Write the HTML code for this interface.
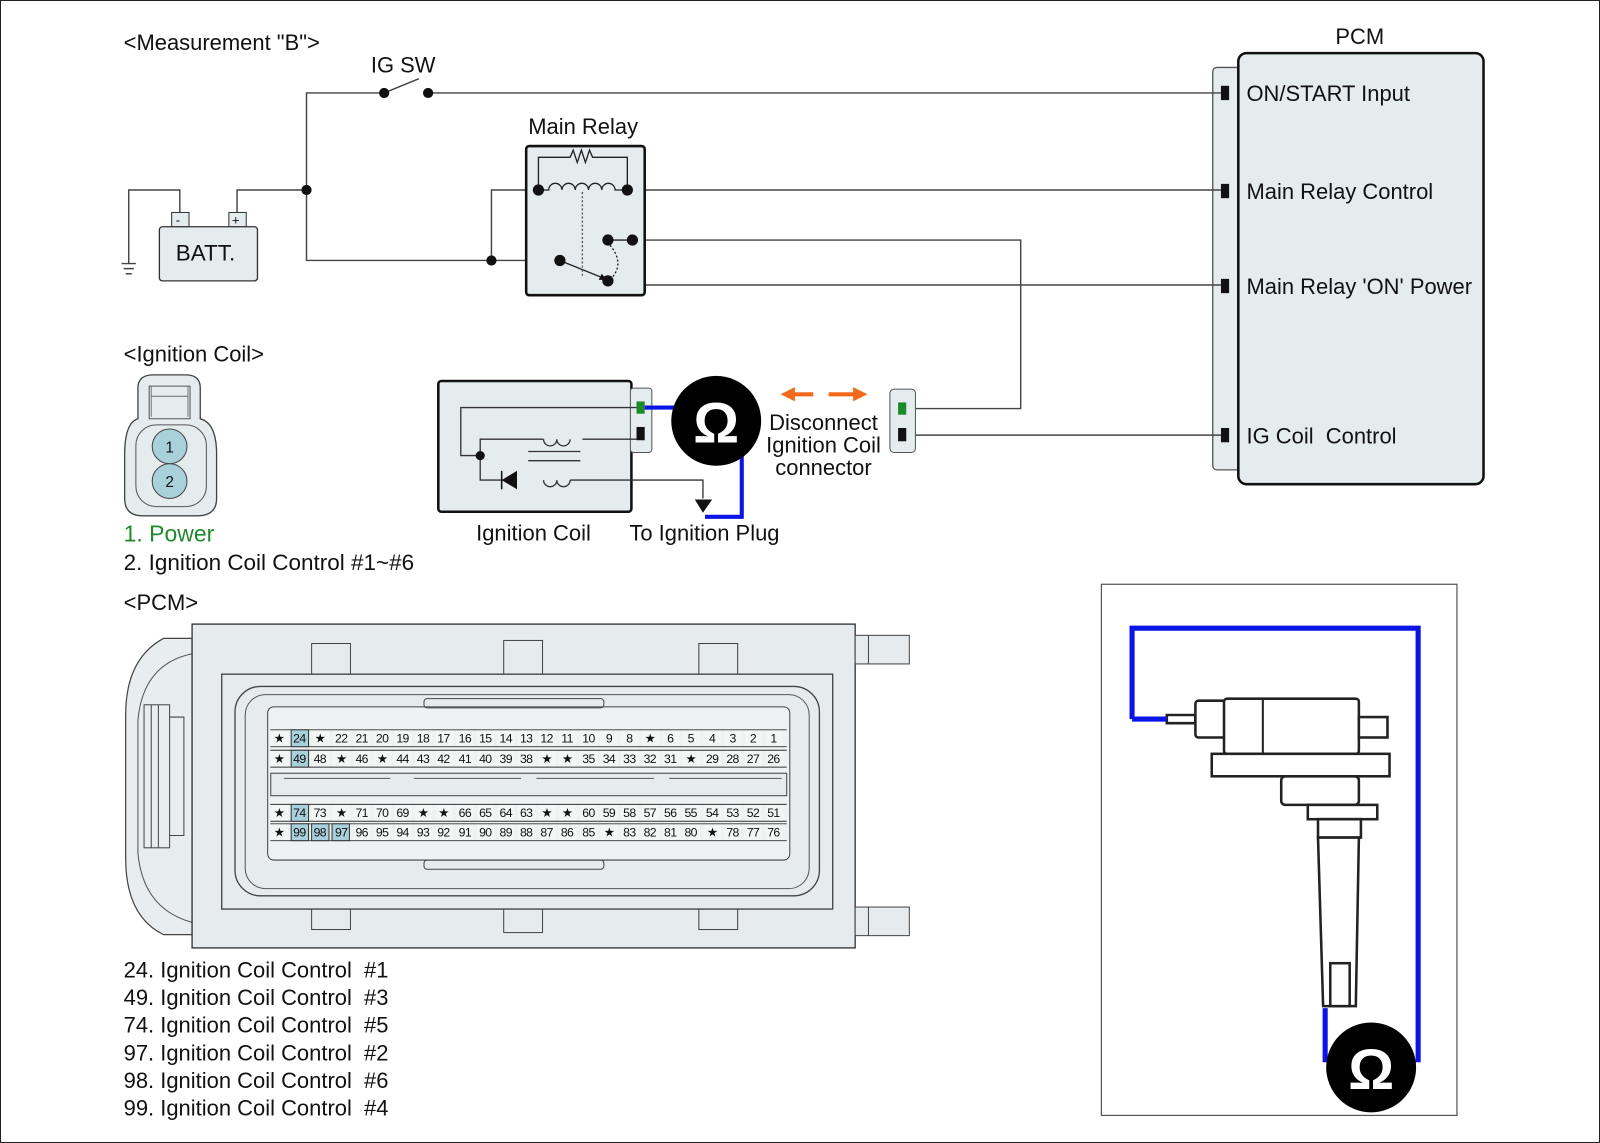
<!DOCTYPE html>
<html><head><meta charset="utf-8"><style>
html,body{margin:0;padding:0;background:#fff}
svg{display:block}
text{font-family:"Liberation Sans",Arial,sans-serif;fill:#111;white-space:pre}
.p{font-size:12px;text-anchor:middle;letter-spacing:-0.6px}
</style></head><body>
<svg width="1600" height="1143" viewBox="0 0 1566 1119" preserveAspectRatio="none" xmlns="http://www.w3.org/2000/svg" xml:space="preserve">
<defs>
<pattern id="pp" x="264.5" y="0" width="20.17" height="1119" patternUnits="userSpaceOnUse">
<rect x="0.5" y="0" width="17" height="1119" fill="#f4f6f6" stroke="none"/>
</pattern>
</defs>
<rect x="0.5" y="0.5" width="1565" height="1118" fill="#fff" stroke="#222" stroke-width="1"/>

<text x="121" y="49" font-size="21.5">&lt;Measurement "B"&gt;</text>
<text x="363" y="71" font-size="21.5">IG SW</text>
<text x="517" y="131" font-size="21.5">Main Relay</text>
<text x="1307" y="43" font-size="21.5">PCM</text>

<rect x="1187" y="66" width="30" height="394" rx="4" fill="#e4ecee" stroke="#555" stroke-width="1.3"/>
<rect x="1212" y="52" width="240" height="422" rx="8" fill="#e4ecee" stroke="#111" stroke-width="2.5"/>
<g fill="#111">
<rect x="1195" y="84" width="8" height="14"/>
<rect x="1195" y="180" width="8" height="14"/>
<rect x="1195" y="273" width="8" height="14"/>
<rect x="1195" y="419" width="8" height="14"/>
</g>
<text x="1220" y="99" font-size="21.5">ON/START Input</text>
<text x="1220" y="195" font-size="21.5">Main Relay Control</text>
<text x="1220" y="288" font-size="21.5">Main Relay 'ON' Power</text>
<text x="1220" y="434" font-size="21.5">IG Coil  Control</text>

<g fill="none" stroke="#444" stroke-width="1.4">
<path d="M300 186 V91 H376"/>
<path d="M376 91 L410 77"/>
<path d="M419 91 H1195"/>
<path d="M232 208 V186 H300 V255 H548"/>
<path d="M481 255 V186 H527"/>
<path d="M614 186 H1195"/>
<path d="M595 235 H999 V400 H884"/>
<path d="M619 235 V279 H1195"/>
<path d="M884 426 H1195"/>
<path d="M176 208 V186 H126 V258"/>
<path d="M119 258 H133 M121 263 H131 M123 268 H129"/>
</g>
<g fill="#111">
<circle cx="376" cy="91" r="5"/><circle cx="419" cy="91" r="5"/>
<circle cx="300" cy="186" r="5"/><circle cx="481" cy="255" r="5"/>
</g>

<rect x="168" y="208" width="17" height="14" fill="#e4ecee" stroke="#333"/>
<rect x="224" y="208" width="17" height="14" fill="#e4ecee" stroke="#333"/>
<text x="172" y="220" font-size="13">-</text><text x="227" y="220" font-size="13">+</text>
<rect x="156" y="222" width="96" height="53" rx="3" fill="#e4ecee" stroke="#333" stroke-width="1.3"/>
<text x="172" y="255" font-size="22">BATT.</text>

<rect x="515" y="143" width="116" height="146" rx="3" fill="#e4ecee" stroke="#111" stroke-width="2.5"/>
<g fill="none" stroke="#222" stroke-width="1.3">
<path d="M527 186 V154 H558 l3 -7 l4 12 l4 -12 l4 12 l4 -12 l3 7 H614 V186"/>
<path d="M527 186 H537 a6.5 6.5 0 0 1 13 0 a6.5 6.5 0 0 1 13 0 a6.5 6.5 0 0 1 13 0 a6.5 6.5 0 0 1 13 0 a6.5 6.5 0 0 1 13 0 H614"/>
<path d="M548 255 L590 272" />
<path d="M595 235 H619"/>
</g>
<path d="M570 188 V270" stroke="#555" stroke-width="1.3" stroke-dasharray="2,2" fill="none"/>
<path d="M597 240 Q612 258 598 273" stroke="#222" stroke-width="1.3" stroke-dasharray="2,2" fill="none"/>
<path d="M589 268 L594 274 L586 274 Z" fill="#111"/>
<g fill="#111">
<circle cx="527" cy="186" r="5.5"/><circle cx="614" cy="186" r="5.5"/>
<circle cx="548" cy="255" r="5.5"/><circle cx="595" cy="235" r="5.5"/>
<circle cx="619" cy="235" r="5.5"/><circle cx="595" cy="275" r="5.5"/>
</g>

<text x="121" y="354" font-size="21.5">&lt;Ignition Coil&gt;</text>
<path d="M135 380 Q135 367 150 367 H182 Q196 367 196 380 V410 Q212 414 212 445 V488 Q212 505 193 505 H140 Q122 505 122 488 V445 Q122 414 135 410 Z" fill="#e4ecee" stroke="#444" stroke-width="1.3"/>
<path d="M146 378 H186 V410 H146 Z" fill="none" stroke="#555"/>
<path d="M148 378 V408 M184 378 V408 M148 388 H184" stroke="#777" fill="none"/>
<rect x="133" y="416" width="69" height="80" rx="20" fill="none" stroke="#555"/>
<circle cx="166" cy="437" r="17" fill="#a9d1dc" stroke="#444"/>
<circle cx="166" cy="471" r="17" fill="#a9d1dc" stroke="#444"/>
<text x="166" y="443" font-size="15" text-anchor="middle">1</text>
<text x="166" y="477" font-size="15" text-anchor="middle">2</text>
<text x="121" y="530" font-size="22.5" style="fill:#1f8a2c">1. Power</text>
<text x="121" y="558" font-size="22">2. Ignition Coil Control #1~#6</text>

<rect x="429" y="373" width="189" height="128" rx="3" fill="#e4ecee" stroke="#111" stroke-width="2.5"/>
<rect x="617" y="380" width="21" height="63" rx="3" fill="#e4ecee" stroke="#555"/>
<rect x="623" y="393" width="8" height="12" fill="#1a8a2a"/>
<rect x="623" y="418" width="8" height="13" fill="#111"/>
<g fill="none" stroke="#333" stroke-width="1.3">
<path d="M623 399 H451 V446 H470"/>
<path d="M470 446 V430 H532 M570 430 H623"/>
<path d="M532 430 a6.5 6.5 0 0 0 13 0 a6.5 6.5 0 0 0 13 0" />
<path d="M517 442 H568 M517 451 H568"/>
<path d="M470 446 V470 H496 M558 470 H688 V488"/>
<path d="M532 470 a6.5 6.5 0 0 0 13 0 a6.5 6.5 0 0 0 13 0"/>
</g>
<path d="M491 470 L506 461 V479 Z" fill="#111"/><path d="M491 461 V479" stroke="#111" stroke-width="1.5"/>
<circle cx="470" cy="446" r="4.5" fill="#111"/>
<path d="M680 489 H697 L688 502 Z" fill="#111"/>
<path d="M631 399 H665 M726 437 V506 H690" stroke="#0a14e6" stroke-width="4" fill="none"/>
<circle cx="701" cy="412" r="44" fill="#000"/>
<text x="701" y="433" font-size="56" text-anchor="middle" style="fill:#fff;font-weight:bold">Ω</text>
<text x="466" y="529" font-size="21.5">Ignition Coil</text>
<text x="616" y="529" font-size="21.5">To Ignition Plug</text>

<path d="M775 386 H796" stroke="#f26a1b" stroke-width="4"/>
<path d="M764 386 L778 379 V393 Z" fill="#f26a1b"/>
<path d="M811 386 H838" stroke="#f26a1b" stroke-width="4"/>
<path d="M849 386 L835 379 V393 Z" fill="#f26a1b"/>
<text x="806" y="421" font-size="21.5" text-anchor="middle">Disconnect</text>
<text x="806" y="443" font-size="21.5" text-anchor="middle">Ignition Coil</text>
<text x="806" y="465" font-size="21.5" text-anchor="middle">connector</text>
<rect x="871" y="381" width="25" height="62" rx="4" fill="#e4ecee" stroke="#555"/>
<rect x="879" y="394" width="8" height="12" fill="#1a8a2a"/>
<rect x="879" y="419" width="8" height="13" fill="#111"/>

<text x="121" y="597" font-size="21.5">&lt;PCM&gt;</text>
<path d="M188 625 H160 Q123 645 123 700 V840 Q123 897 160 915 H188 Z" fill="#e8eeef" stroke="#444" stroke-width="1.2"/>
<path d="M188 640 Q140 650 135 705 V835 Q140 890 188 903" fill="none" stroke="#555"/>
<rect x="141" y="690" width="25" height="140" fill="none" stroke="#444"/>
<path d="M148 690 V830 M155 690 V830 M166 702 H180 V818 H166" fill="none" stroke="#444"/>
<rect x="188" y="611" width="649" height="317" fill="#e6eced" stroke="#333" stroke-width="1.3"/>
<rect x="837" y="622" width="53" height="28" fill="#e6eced" stroke="#444"/>
<rect x="837" y="888" width="53" height="28" fill="#e6eced" stroke="#444"/>
<path d="M850 622 V650 M850 888 V916" stroke="#444"/>
<g fill="#e6eced" stroke="#444">
<rect x="305" y="630" width="38" height="35"/><rect x="493" y="627" width="38" height="38"/><rect x="684" y="630" width="38" height="35"/>
<rect x="305" y="875" width="38" height="35"/><rect x="493" y="875" width="38" height="38"/><rect x="684" y="875" width="38" height="35"/>
</g>
<path d="M217 660 H815 V890 H217 Z" fill="#e6eced" stroke="#444" stroke-width="1.3"/>
<rect x="230" y="672" width="572" height="205" rx="25" fill="none" stroke="#444" stroke-width="1.3"/>
<rect x="240" y="680" width="552" height="190" rx="20" fill="none" stroke="#555"/>
<rect x="262" y="692" width="511" height="150" rx="6" fill="#eef2f2" stroke="#444"/>
<rect x="415" y="684" width="176" height="9" rx="3" fill="none" stroke="#444"/>
<rect x="415" y="842" width="176" height="9" rx="3" fill="none" stroke="#444"/>
<rect x="265" y="757" width="505" height="22" fill="#e6eced" stroke="#444"/>
<path d="M278 762 H382 M405 762 H510 M525 762 H640 M655 762 H765" stroke="#555"/>
<rect x="264" y="714" width="505" height="17" fill="url(#pp)"/>
<rect x="264" y="734" width="505" height="17" fill="url(#pp)"/>
<rect x="264" y="787" width="505" height="17" fill="url(#pp)"/>
<rect x="264" y="806" width="505" height="17" fill="url(#pp)"/>
<g fill="none" stroke="#333" stroke-width="0.9">
<path d="M264.5 714.5 H770 M264.5 731 H770 M264.5 734.5 H770 M264.5 751 H770 M264.5 787.5 H770 M264.5 804 H770 M264.5 806.5 H770 M264.5 823 H770"/>
</g>
<g fill="#a9d1dc" stroke="#333">
<rect x="285" y="714.5" width="17" height="16.5"/><rect x="285" y="734.5" width="17" height="16.5"/>
<rect x="285" y="787.5" width="17" height="16.5"/><rect x="285" y="806.5" width="17" height="16.5"/>
<rect x="305" y="806.5" width="17" height="16.5"/><rect x="325" y="806.5" width="17" height="16.5"/>
</g>
<g>
<text class="p" x="273" y="727">★</text><text class="p" x="293" y="727">24</text><text class="p" x="313" y="727">★</text><text class="p" x="334" y="727">22</text><text class="p" x="354" y="727">21</text><text class="p" x="374" y="727">20</text><text class="p" x="394" y="727">19</text><text class="p" x="414" y="727">18</text><text class="p" x="434" y="727">17</text><text class="p" x="455" y="727">16</text><text class="p" x="475" y="727">15</text><text class="p" x="495" y="727">14</text><text class="p" x="515" y="727">13</text><text class="p" x="535" y="727">12</text><text class="p" x="555" y="727">11</text><text class="p" x="576" y="727">10</text><text class="p" x="596" y="727">9</text><text class="p" x="616" y="727">8</text><text class="p" x="636" y="727">★</text><text class="p" x="656" y="727">6</text><text class="p" x="676" y="727">5</text><text class="p" x="697" y="727">4</text><text class="p" x="717" y="727">3</text><text class="p" x="737" y="727">2</text><text class="p" x="757" y="727">1</text>
<text class="p" x="273" y="747">★</text><text class="p" x="293" y="747">49</text><text class="p" x="313" y="747">48</text><text class="p" x="334" y="747">★</text><text class="p" x="354" y="747">46</text><text class="p" x="374" y="747">★</text><text class="p" x="394" y="747">44</text><text class="p" x="414" y="747">43</text><text class="p" x="434" y="747">42</text><text class="p" x="455" y="747">41</text><text class="p" x="475" y="747">40</text><text class="p" x="495" y="747">39</text><text class="p" x="515" y="747">38</text><text class="p" x="535" y="747">★</text><text class="p" x="555" y="747">★</text><text class="p" x="576" y="747">35</text><text class="p" x="596" y="747">34</text><text class="p" x="616" y="747">33</text><text class="p" x="636" y="747">32</text><text class="p" x="656" y="747">31</text><text class="p" x="676" y="747">★</text><text class="p" x="697" y="747">29</text><text class="p" x="717" y="747">28</text><text class="p" x="737" y="747">27</text><text class="p" x="757" y="747">26</text>
<text class="p" x="273" y="800">★</text><text class="p" x="293" y="800">74</text><text class="p" x="313" y="800">73</text><text class="p" x="334" y="800">★</text><text class="p" x="354" y="800">71</text><text class="p" x="374" y="800">70</text><text class="p" x="394" y="800">69</text><text class="p" x="414" y="800">★</text><text class="p" x="434" y="800">★</text><text class="p" x="455" y="800">66</text><text class="p" x="475" y="800">65</text><text class="p" x="495" y="800">64</text><text class="p" x="515" y="800">63</text><text class="p" x="535" y="800">★</text><text class="p" x="555" y="800">★</text><text class="p" x="576" y="800">60</text><text class="p" x="596" y="800">59</text><text class="p" x="616" y="800">58</text><text class="p" x="636" y="800">57</text><text class="p" x="656" y="800">56</text><text class="p" x="676" y="800">55</text><text class="p" x="697" y="800">54</text><text class="p" x="717" y="800">53</text><text class="p" x="737" y="800">52</text><text class="p" x="757" y="800">51</text>
<text class="p" x="273" y="819">★</text><text class="p" x="293" y="819">99</text><text class="p" x="313" y="819">98</text><text class="p" x="334" y="819">97</text><text class="p" x="354" y="819">96</text><text class="p" x="374" y="819">95</text><text class="p" x="394" y="819">94</text><text class="p" x="414" y="819">93</text><text class="p" x="434" y="819">92</text><text class="p" x="455" y="819">91</text><text class="p" x="475" y="819">90</text><text class="p" x="495" y="819">89</text><text class="p" x="515" y="819">88</text><text class="p" x="535" y="819">87</text><text class="p" x="555" y="819">86</text><text class="p" x="576" y="819">85</text><text class="p" x="596" y="819">★</text><text class="p" x="616" y="819">83</text><text class="p" x="636" y="819">82</text><text class="p" x="656" y="819">81</text><text class="p" x="676" y="819">80</text><text class="p" x="697" y="819">★</text><text class="p" x="717" y="819">78</text><text class="p" x="737" y="819">77</text><text class="p" x="757" y="819">76</text>
</g>

<g font-size="21.5">
<text x="121" y="957">24. Ignition Coil Control  #1</text>
<text x="121" y="984">49. Ignition Coil Control  #3</text>
<text x="121" y="1011">74. Ignition Coil Control  #5</text>
<text x="121" y="1038">97. Ignition Coil Control  #2</text>
<text x="121" y="1065">98. Ignition Coil Control  #6</text>
<text x="121" y="1092">99. Ignition Coil Control  #4</text>
</g>

<rect x="1078" y="572" width="348" height="520" fill="#fff" stroke="#555" stroke-width="1.2"/>
<g fill="#fff" stroke="#222" stroke-width="2.5">
<path d="M1142 700 H1170 V708 H1142 Z"/>
<rect x="1170" y="686" width="30" height="36" rx="3"/>
<rect x="1198" y="684" width="132" height="54" rx="3"/>
<rect x="1330" y="702" width="28" height="20"/>
<rect x="1186" y="738" width="174" height="22"/>
<rect x="1254" y="760" width="76" height="28" rx="4"/>
<rect x="1280" y="788" width="68" height="14"/>
<path d="M1290 802 H1332 V820 H1290 Z"/>
<path d="M1290 820 H1330 L1327 985 H1295 Z"/>
<rect x="1302" y="943" width="19" height="42"/>
</g>
<path d="M1236 684 V738" stroke="#222" stroke-width="2"/>
<path d="M1108 704 V615 H1388 V1040 M1297 987 V1040 M1108 704 H1142" stroke="#0a14e6" stroke-width="5" fill="none"/>
<circle cx="1342" cy="1045" r="44" fill="#000"/>
<text x="1342" y="1066" font-size="56" text-anchor="middle" style="fill:#fff;font-weight:bold">Ω</text>
</svg>
</body></html>
